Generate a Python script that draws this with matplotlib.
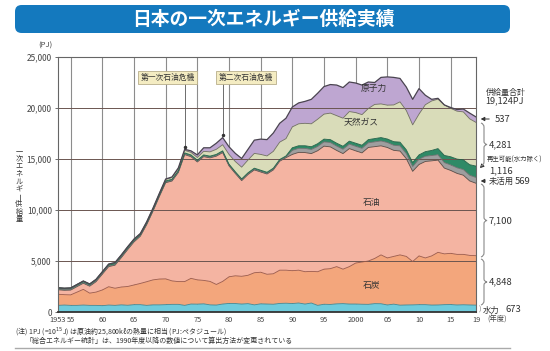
import matplotlib
matplotlib.use("Agg")
import matplotlib.pyplot as plt
from matplotlib.patches import FancyBboxPatch, PathPatch
from matplotlib.path import Path
import numpy as np

plt.rcParams['font.family'] = ['Noto Sans CJK JP', 'DejaVu Sans']

years = list(range(1953, 2020))

hydro = [650, 680, 650, 650, 680, 650, 650, 620, 680, 650, 700, 660, 720, 720, 650, 700, 700, 720, 750, 750,
         650, 780, 770, 800, 700, 680, 780, 840, 830, 780, 820, 700, 800, 780, 760, 840, 860,
         830, 880, 780, 880, 650, 760, 740, 800, 820, 780, 780, 760, 750, 820, 810, 690, 770, 670, 690,
         700, 720, 720, 680, 690, 720, 730, 690, 710, 690, 673]
coal = [1090, 1020, 1030, 1300, 1540, 1200, 1300, 1540, 1800, 1680, 1750, 1840, 1930, 2080, 2320, 2450, 2530,
        2530, 2300, 2230, 2330, 2520, 2380, 2300, 2300, 2020, 2220, 2610, 2720, 2720, 2780, 3150, 3100,
        2920, 2990, 3260, 3240,
        3220, 3220, 3170, 3100, 3300, 3440, 3510, 3650, 3380, 3670, 4020, 4140, 4250, 4430, 4790, 4610,
        4680, 4930, 4760, 4250, 4780, 4580, 4820, 5160, 4980, 5020, 4960, 4940, 4860, 4848]
oil = [440, 430, 470, 540, 600, 680, 1020, 1550, 1970, 2260, 2880, 3620, 4220, 4630, 5590, 6740, 8090,
       9430, 9790, 10700, 12450, 11930, 11560, 12130, 12110, 12580, 12630, 10880, 10030, 9380, 9880,
       10080, 9830, 9830, 10180, 10680, 11030,
       11400, 11550, 11680, 11550, 11860, 12060, 11940, 11390, 11330, 11570, 11000, 10700, 11130, 10960,
       10690, 10830, 10400, 10180, 9580, 8840, 8960, 9460, 9320, 9040, 8410, 8130, 7940, 7760, 7300, 7100]
unused = [50] * 37 + [400, 400, 410, 410, 420, 420, 430, 430, 430, 440, 450, 450, 460, 470, 480, 490,
                      500, 510, 500, 480, 520, 510, 520, 530, 540, 540, 550, 560, 560, 569]
renew = [150] * 13 + [120] * 24 + [250, 250, 260, 260, 270, 270, 280, 280, 290, 290, 300, 300, 310, 320,
                                   330, 340, 350, 360, 370, 380, 420, 450, 500, 600, 700, 800, 850, 950,
                                   1030, 1116]
gas = [0, 0, 10, 10, 20, 20, 30, 40, 50, 60, 70, 80, 80, 90, 100, 110, 120, 150, 170, 200, 250,
       250, 270, 350, 420, 500, 600, 950, 1000, 1150, 1250, 1450, 1550, 1600, 1650, 1700, 1700,
       2050, 2150, 2200, 2250, 2400, 2450, 2600, 2700, 2750, 2900, 3000, 3000, 3050, 3350, 3300, 3320,
       3600, 3950, 3850, 3700, 4000, 4600, 4850, 4850, 4950, 4750, 4700, 4700, 4500, 4281]
nuclear = [0] * 13 + [5, 10, 15, 20, 40, 60, 80, 100, 150, 250, 350, 400, 600, 700, 750, 800, 850,
                      1050, 1300, 1500, 1600, 1800, 1850, 2000,
                      1950, 2050, 2150, 2400, 2550, 2700, 2800, 3000, 3000, 2900, 2900, 2900, 2600, 2150,
                      2600, 2770, 2700, 2300, 2300, 2500, 2500, 930, 160, 80, 0, 80, 160, 280, 560, 537]

layer_names = ['水力', '石炭', '石油', '未活用', '再生可能', '天然ガス', '原子力']
layer_colors = ['#6fcbdc', '#f3a67c', '#f4b4a2', '#9e9e9e', '#2f8a66', '#d9dcb9', '#bea6d1']
edge_colors = ['#3f8793', '#9a5848', '#5a4a44', '#6e6e6e', '#1f5f45', '#6f6f60', '#7a6a86']

xtick_pos = [1953, 1955, 1960, 1965, 1970, 1975, 1980, 1985, 1990, 1995, 2000, 2005, 2010, 2015, 2019]
xtick_lab = ['1953', '55', '60', '65', '70', '75', '80', '85', '90', '95', '2000', '05', '10', '15', '19']
ytick_pos = [0, 5000, 10000, 15000, 20000, 25000]
ytick_lab = ['0', '5,000', '10,000', '15,000', '20,000', '25,000']

W, H = 550, 351
fig = plt.figure(figsize=(W / 100, H / 100), dpi=100)


def P(x, y):
    return (x / W, 1 - y / H)


# title bar
tb = FancyBboxPatch(P(15, 33), 495 / W, 28 / H, boxstyle="round,pad=0,rounding_size=0.012",
                    mutation_aspect=W / H, transform=fig.transFigure, facecolor='#1479be',
                    edgecolor='none')
fig.patches.append(tb)
fig.text(*P(263, 19.5), '日本の一次エネルギー供給実績', color='white', fontsize=13.5, fontweight='bold',
         ha='center', va='center')

ax = fig.add_axes([58 / W, 1 - 312 / H, 418 / W, 255 / H])
series = [hydro, coal, oil, unused, renew, gas, nuclear]
stack = np.cumsum(np.array(series, dtype=float), axis=0)
prev = np.zeros(len(years))
for i, s in enumerate(stack):
    ax.fill_between(years, prev, s, facecolor=layer_colors[i], edgecolor='none', zorder=2)
    prev = s
for i, s in enumerate(stack):
    lw = 0.9 if i == len(stack) - 1 else 0.6
    col = '#4a4450' if i == len(stack) - 1 else edge_colors[i]
    ax.plot(years, s, color=col, lw=lw, zorder=4)

ax.set_xlim(1953, 2019)
ax.set_ylim(0, 25000)
for xv in xtick_pos[1:-1]:
    ax.axvline(xv, color='#8c8c8c', lw=0.8, zorder=1)
for yv in ytick_pos[1:-1]:
    ax.axhline(yv, color='#6b5550', lw=0.7, zorder=3)
ax.set_xticks(xtick_pos)
ax.set_xticklabels(xtick_lab, fontsize=5.3, color='#444444')
ax.tick_params(axis='x', length=0, pad=3)
ax.set_yticks(ytick_pos)
ax.set_yticklabels(ytick_lab, fontsize=6.0, color='#444444')
ax.tick_params(axis='y', length=2.5, width=0.6, color='#555555', pad=2)
for side in ['left', 'right', 'top']:
    ax.spines[side].set_color('#666666')
    ax.spines[side].set_linewidth(0.8)
ax.spines['bottom'].set_color('#333333')
ax.spines['bottom'].set_linewidth(1.3)
for sp in ax.spines.values():
    sp.set_zorder(6)

# inner labels
ax.text(2002.8, 21900, '原子力', fontsize=6.3, ha='center', va='center', color='#333333', zorder=7)
ax.text(2000.8, 18550, '天然ガス', fontsize=6.3, ha='center', va='center', color='#333333', zorder=7)
ax.text(2002.5, 10700, '石油', fontsize=6.3, ha='center', va='center', color='#333333', zorder=7)
ax.text(2002.5, 2550, '石炭', fontsize=6.3, ha='center', va='center', color='#333333', zorder=7)


# oil crisis boxes
def crisis(year, top, bx, label):
    ax.plot([year, year], [top + 150, 22500], color='#555555', lw=0.6, zorder=5)
    ax.plot([year], [top + 250], marker='o', ms=1.5, color='#333333', zorder=5)
    ax.text(bx, 23000, label, fontsize=5.6, ha='center', va='center', color='#333333', zorder=7,
            bbox=dict(boxstyle='square,pad=0.35', facecolor='#f4ecc2', edgecolor='#b8ae8a', lw=0.6))


crisis(1973, stack[-1][years.index(1973)], 1970.3, '第一次石油危機')
crisis(1979, stack[-1][years.index(1979)], 1982.7, '第二次石油危機')

fig.text(*P(45, 46), '(PJ)', fontsize=5.5, ha='center', va='center', color='#444444')

# vertical y label (tategaki)
ylab = '一次エネルギー供給量'
for i, ch in enumerate(ylab):
    rot = -90 if ch == 'ー' else 0
    fig.text(*P(19, 151 + i * 7.6), ch, fontsize=5.2, ha='center', va='center', rotation=rot,
             color='#333333')

fig.text(*P(487, 320), '(年度)', fontsize=5.3, ha='left', va='center', color='#444444')


# right annotations
def brace(y1, y2, x0=481):
    ym = (y1 + y2) / 2
    verts = [P(x0, y1), P(x0 + 3, y1 + 1), P(x0 + 3, y1 + 4),
             P(x0 + 3, ym - 3),
             P(x0 + 3, ym - 0.5), P(x0 + 6, ym),
             P(x0 + 3, ym + 0.5), P(x0 + 3, ym + 3),
             P(x0 + 3, y2 - 4),
             P(x0 + 3, y2 - 1), P(x0, y2)]
    codes = [Path.MOVETO, Path.CURVE3, Path.CURVE3, Path.LINETO, Path.CURVE3, Path.CURVE3,
             Path.CURVE3, Path.CURVE3, Path.LINETO, Path.CURVE3, Path.CURVE3]
    fig.patches.append(PathPatch(Path(verts, codes), transform=fig.transFigure, fill=False,
                                 edgecolor='#8a8a8a', lw=0.8))


brace(123, 166)
brace(184, 257)
brace(259, 305)

fs = 6.8
fig.text(*P(486, 92), '供給量合計', fontsize=5.8, ha='left', va='center', color='#333333')
fig.text(*P(485, 101), '19,124PJ', fontsize=6.6, ha='left', va='center', color='#333333')


def arrow(x1, y1, x2, y2):
    fig.add_artist(matplotlib.patches.FancyArrowPatch(P(x1, y1), P(x2, y2), transform=fig.transFigure,
                                                      arrowstyle='-|>,head_length=2.2,head_width=1.2',
                                                      color='#333333', lw=0.7))


arrow(492, 119, 478, 119)
fig.text(*P(495, 120), '537', fontsize=fs, ha='left', va='center', color='#333333')
fig.text(*P(489, 145), '4,281', fontsize=fs, ha='left', va='center', color='#333333')
fig.text(*P(487, 160), '再生可能(水力除く)', fontsize=4.6, ha='left', va='center', color='#333333')
arrow(484, 164, 478, 170)
fig.text(*P(489, 171), '1,116', fontsize=fs, ha='left', va='center', color='#333333')
arrow(488, 181, 478, 181)
fig.text(*P(489, 181), '未活用', fontsize=6.0, ha='left', va='center', color='#333333')
fig.text(*P(515, 181), '569', fontsize=fs, ha='left', va='center', color='#333333')
fig.text(*P(489, 221), '7,100', fontsize=fs, ha='left', va='center', color='#333333')
fig.text(*P(489, 282), '4,848', fontsize=fs, ha='left', va='center', color='#333333')
fig.text(*P(479, 310), ')', fontsize=5.5, ha='left', va='center', color='#888888')
fig.text(*P(483, 310), '水力', fontsize=6.0, ha='left', va='center', color='#333333')
fig.text(*P(505, 310), '673', fontsize=fs, ha='left', va='center', color='#333333')

# notes
fig.text(*P(15, 331), '(注) 1PJ (=10$^{15}$J) は原油約25,800kℓの熱量に相当 (PJ:ペタジュール)', fontsize=5.0,
         ha='left', va='center', color='#333333')
fig.text(*P(25, 341), '「総合エネルギー統計」は、1990年度以降の数値について算出方法が変更されている',
         fontsize=5.0, ha='left', va='center', color='#333333')
fig.add_artist(plt.Line2D([15 / W, 510 / W], [1 - 348 / H, 1 - 348 / H], transform=fig.transFigure,
                          color='#aaaaaa', lw=1.0))

fig.savefig('out.png', dpi=100)
